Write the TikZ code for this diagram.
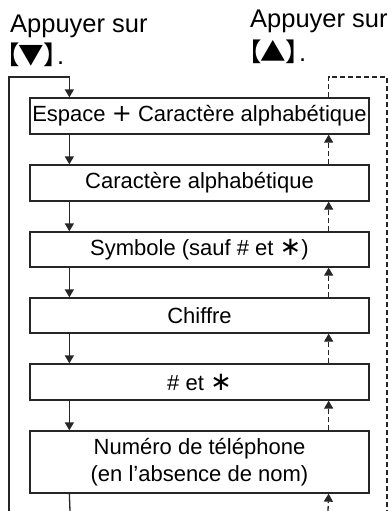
\documentclass[tikz,border=0pt]{standalone}
\usepackage{fontspec}
\setmainfont{Liberation Sans}
\newfontfamily\cjk[RawFeature=+palt]{Noto Sans CJK JP}
\newfontfamily\symb{DejaVu Sans}
\usetikzlibrary{positioning, arrows.meta}

\newcommand{\etoile}{{\symb\fontsize{26}{27}\selectfont ∗}}
\newcommand{\plus}{{\symb\fontsize{24}{27}\selectfont +}}

\begin{document}
\begin{tikzpicture}[x=1pt, y=-1pt,
    boite/.style={draw=black!85, line width=1.3pt, minimum width=339pt,
        inner sep=0pt, align=center, font=\fontsize{22}{27}\selectfont},
    trait/.style={draw=black!85, line width=1.3pt},
    fleche/.style={trait, -{Triangle[length=8pt,width=9pt]}},
    pointille/.style={draw=black!85, line width=1.2pt, dash pattern=on 5pt off 3pt},
    titre/.style={anchor=base west, inner sep=0pt,
        font=\fontsize{25.5}{33}\selectfont}]
    \useasboundingbox (0,0) rectangle (391,511);

    % touches
    \node[titre] (bas) at (10,33) {Appuyer sur};
    \node[titre] (bastouche) at (6,64) {{\cjk【▼】}.};
    \node[titre] (haut) at (250,28) {Appuyer sur};
    \node[titre] (hauttouche) at (248,62) {{\cjk【▲】}.};

    % les modes
    \node[boite, minimum height=36pt] (espace) at (199.5,116) {Espace \plus\ Caractère alphabétique};
    \node[boite, minimum height=36pt] (alpha) at (199.5,183) {Caractère alphabétique};
    \node[boite, minimum height=35pt] (symbole) at (199.5,249.5) {Symbole (sauf \# et \etoile)};
    \node[boite, minimum height=35pt] (chiffre) at (199.5,315.5) {Chiffre};
    \node[boite, minimum height=36pt] (diese) at (199.5,382) {\# et \etoile};
    \node[boite, minimum height=62pt] (numero) at (199.5,462) {Numéro de téléphone\\(en l’absence de nom)};

    \foreach \a/\b in {espace/alpha, alpha/symbole, symbole/chiffre, chiffre/diese, diese/numero} {
        \draw[fleche] ([xshift=40pt]\a.south west) -- ([xshift=40pt]\b.north west);
        \draw[pointille, fleche] ([xshift=-41pt]\b.north east) -- ([xshift=-41pt]\a.south east);
    }

    % retour en haut
    \coordinate (finbas) at (70,511);
    \coordinate (coing) at (9,511);
    \draw[trait] ([xshift=40pt]numero.south west) -- (finbas);
    \draw[fleche] (coing) -- (9,77) -| ([xshift=40pt]espace.north west);

    % retour en bas
    \coordinate (departhaut) at (328,511);
    \coordinate (coind) at (387,511);
    \draw[pointille, fleche] (departhaut) -- ([xshift=-41pt]numero.south east);
    \draw[pointille] ([xshift=-41pt]espace.north east) |- (387,77) -- (coind);
\end{tikzpicture}
\end{document}
